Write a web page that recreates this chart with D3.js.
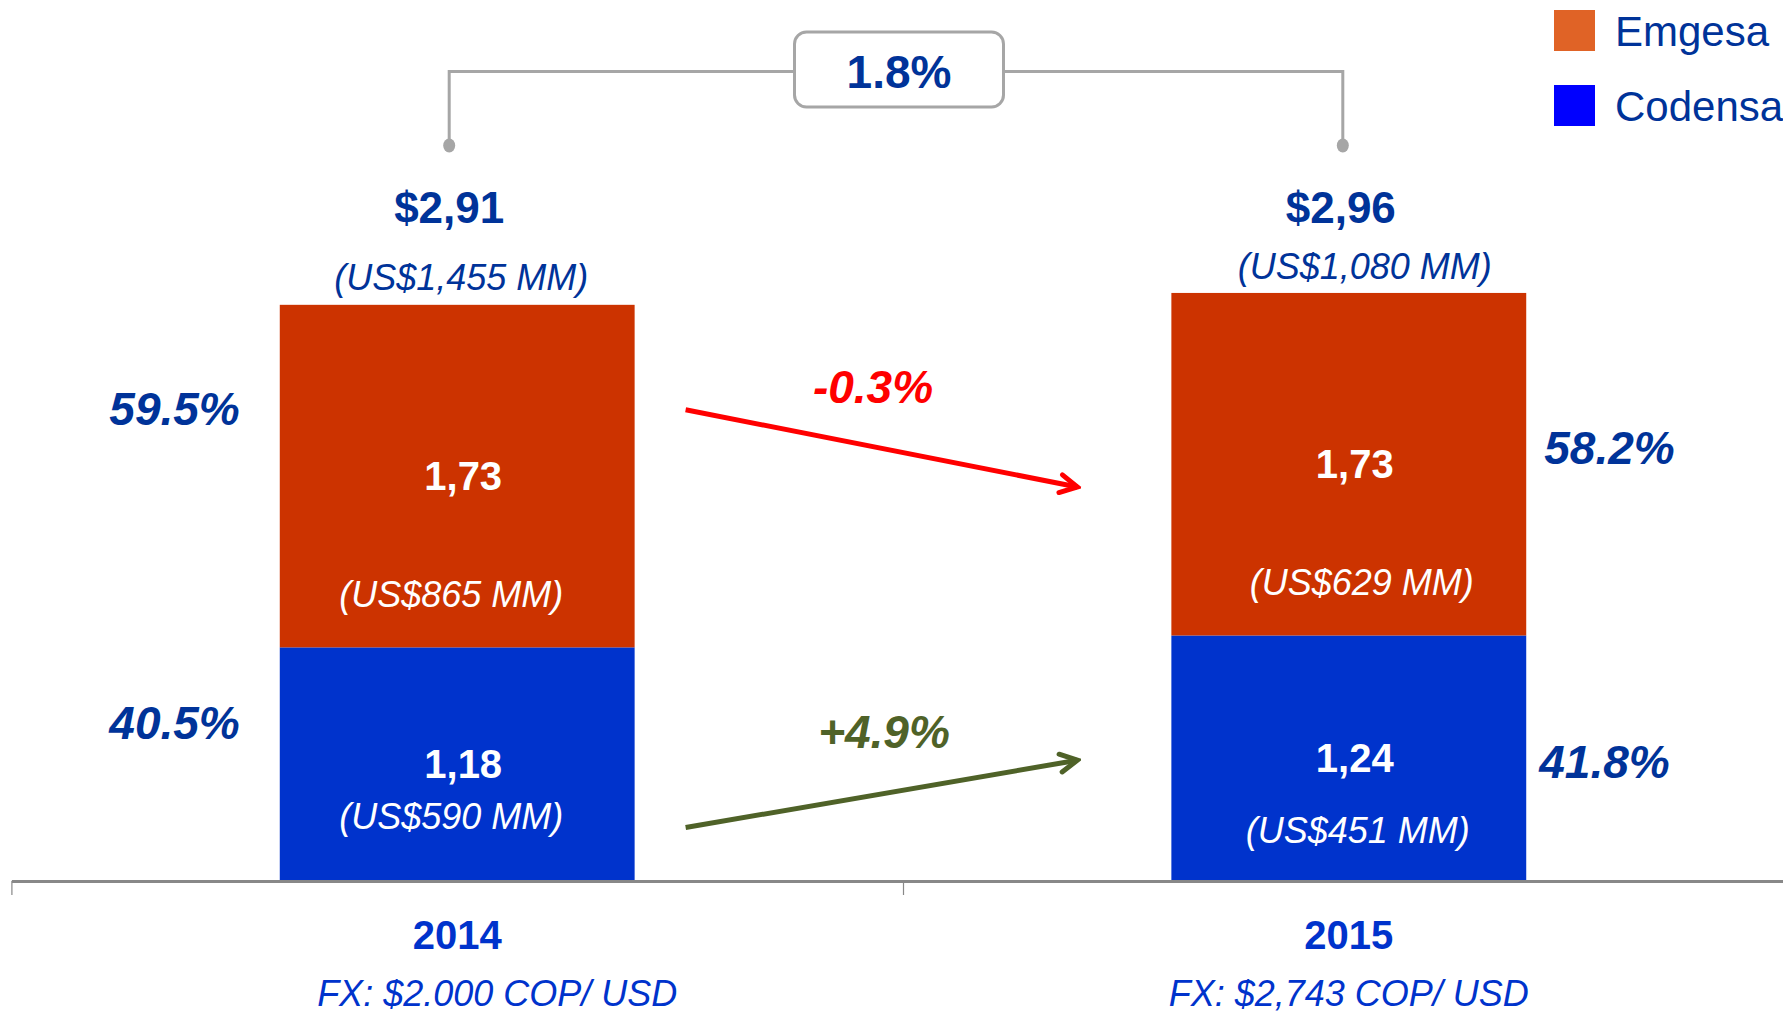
<!DOCTYPE html>
<html>
<head>
<meta charset="utf-8">
<script src="https://cdn.jsdelivr.net/npm/d3@7"></script>
<style>
  html, body { margin: 0; padding: 0; background: #fff; }
  svg { display: block; font-family: "Liberation Sans", Arial, sans-serif; }
</style>
</head>
<body>
<div id="chart"></div>
<script>
// data
const categories = ['2014', '2015'];
const fxLabels = ['FX: $2.000 COP/ USD', 'FX: $2,743 COP/ USD'];
const codensa = [1.18, 1.24];
const emgesa = [1.73, 1.73];
const totalLabels = ['$2,91', '$2,96'];
const totalUsd = ['(US$1,455 MM)', '(US$1,080 MM)'];
const emgesaUsd = ['(US$865 MM)', '(US$629 MM)'];
const codensaUsd = ['(US$590 MM)', '(US$451 MM)'];
const emgesaShare = ['59.5%', '58.2%'];
const codensaShare = ['40.5%', '41.8%'];
const totalGrowth = '1.8%';
// growth arrows: label, start value, end value (in chart units)
const growthArrows = [
    { label: '-0.3%', from: 2.38, to: 1.99, color: '#ff0000' },
    { label: '+4.9%', from: 0.27, to: 0.61, color: '#4f6228' }
];

const width = 1783;
const height = 1013;
const navy = '#003399';
const colors = { emgesa: '#cc3300', codensa: '#0033cc' };
const legendColors = { emgesa: '#e06326', codensa: '#0000ff' };

const svg = d3.select('#chart').append('svg')
    .attr('width', width)
    .attr('height', height);

const rows = categories.map((c, i) => ({ cat: c, codensa: codensa[i], emgesa: emgesa[i] }));
const series = d3.stack().keys(['codensa', 'emgesa'])(rows);

// scales
const x = d3.scaleBand().domain(categories).range([11.4, 1794.6]).padding(0);
const barW = x.bandwidth() * 0.398;
const y = d3.scaleLinear().domain([0, 4]).range([881, 89]);
const cx = c => x(c) + x.bandwidth() / 2;

// bars
svg.append('g')
    .selectAll('g')
    .data(series)
    .join('g')
    .attr('fill', d => colors[d.key])
    .selectAll('rect')
    .data(d => d)
    .join('rect')
    .attr('x', d => cx(d.data.cat) - barW / 2)
    .attr('y', d => y(d[1]))
    .attr('width', barW)
    .attr('height', d => y(d[0]) - y(d[1]));

// axis with ticks at band edges
const edge = d3.scaleLinear().domain([0, 2]).range([11.4, 1794.6]);
const axisG = svg.append('g')
    .attr('transform', `translate(0,${y(0)})`)
    .call(d3.axisBottom(edge).tickValues([0, 1, 2]).tickSize(14).tickSizeOuter(0).tickFormat(''));
axisG.select('.domain').attr('stroke', '#888').attr('stroke-width', 3);
axisG.selectAll('.tick line').attr('stroke', '#888').attr('stroke-width', 1.2);

// category labels
const fxDx = [40, 0];
categories.forEach((c, i) => {
    svg.append('text')
        .attr('x', cx(c))
        .attr('y', 935)
        .attr('dy', '0.35em')
        .attr('text-anchor', 'middle')
        .attr('font-size', 40)
        .attr('font-weight', 'bold')
        .attr('fill', '#0033cc')
        .text(c);
    svg.append('text')
        .attr('x', cx(c) + fxDx[i])
        .attr('y', 993)
        .attr('dy', '0.35em')
        .attr('text-anchor', 'middle')
        .attr('font-size', 36)
        .attr('font-style', 'italic')
        .attr('fill', '#0033cc')
        .text(fxLabels[i]);
});

// segment labels
const emg = series[1];
const cod = series[0];
const usdEmgDx = [-6, 13];
const usdCodDx = [-6, 9];
const usdCodDy = [52, 72];
categories.forEach((c, i) => {
    const eMid = (y(emg[i][0]) + y(emg[i][1])) / 2;
    const cMid = (y(cod[i][0]) + y(cod[i][1])) / 2;
    const fmt = v => v.toFixed(2).replace('.', ',');

    svg.append('text')
        .attr('x', cx(c) + 6).attr('y', eMid).attr('dy', '0.35em')
        .attr('text-anchor', 'middle').attr('font-size', 40).attr('font-weight', 'bold')
        .attr('fill', '#fff').text(fmt(emgesa[i]));
    svg.append('text')
        .attr('x', cx(c) + usdEmgDx[i]).attr('y', y(emg[i][0]) - 53).attr('dy', '0.35em')
        .attr('text-anchor', 'middle').attr('font-size', 36).attr('font-style', 'italic')
        .attr('fill', '#fff').text(emgesaUsd[i]);
    svg.append('text')
        .attr('x', cx(c) + 6).attr('y', cMid).attr('dy', '0.35em')
        .attr('text-anchor', 'middle').attr('font-size', 40).attr('font-weight', 'bold')
        .attr('fill', '#fff').text(fmt(codensa[i]));
    svg.append('text')
        .attr('x', cx(c) + usdCodDx[i]).attr('y', cMid + usdCodDy[i]).attr('dy', '0.35em')
        .attr('text-anchor', 'middle').attr('font-size', 36).attr('font-style', 'italic')
        .attr('fill', '#fff').text(codensaUsd[i]);

    // totals above the bar
    const top = y(emg[i][1]);
    svg.append('text')
        .attr('x', cx(c) - 8).attr('y', 208).attr('dy', '0.35em')
        .attr('text-anchor', 'middle').attr('font-size', 44).attr('font-weight', 'bold')
        .attr('fill', navy).text(totalLabels[i]);
    svg.append('text')
        .attr('x', cx(c) + 4 + 12 * i).attr('y', top - 27).attr('dy', '0.35em')
        .attr('text-anchor', 'middle').attr('font-size', 36).attr('font-style', 'italic')
        .attr('fill', navy).text(totalUsd[i]);
});

// share labels beside the bars
const shareEmgDy = [-67, -16];
const shareCodDy = [-41, 4];
categories.forEach((c, i) => {
    const left = i === 0;
    const xPos = left ? cx(c) - barW / 2 - 40 : cx(c) + barW / 2 + 18;
    const eMid = (y(emg[i][0]) + y(emg[i][1])) / 2;
    const cMid = (y(cod[i][0]) + y(cod[i][1])) / 2;
    [[emgesaShare[i], eMid + shareEmgDy[i], 0], [codensaShare[i], cMid + shareCodDy[i], left ? 0 : -5]].forEach(([t, yy, dx]) => {
        svg.append('text')
            .attr('x', xPos + dx).attr('y', yy).attr('dy', '0.35em')
            .attr('text-anchor', left ? 'end' : 'start')
            .attr('font-size', 46).attr('font-weight', 'bold').attr('font-style', 'italic')
            .attr('fill', navy).text(t);
    });
});

// growth arrows between the bars
const defs = svg.append('defs');
const ax0 = cx(categories[0]) + barW / 2 + 51;
const ax1 = cx(categories[1]) - barW / 2 - 94;
growthArrows.forEach((a, i) => {
    defs.append('marker')
        .attr('id', 'head' + i)
        .attr('viewBox', '0 0 24 24')
        .attr('refX', 20).attr('refY', 12)
        .attr('markerWidth', 24).attr('markerHeight', 24)
        .attr('markerUnits', 'userSpaceOnUse')
        .attr('orient', 'auto')
        .append('path')
        .attr('d', 'M3,3 L20,12 L3,21')
        .attr('fill', 'none')
        .attr('stroke', a.color)
        .attr('stroke-width', 5)
        .attr('stroke-linecap', 'round');
    svg.append('line')
        .attr('x1', ax0).attr('y1', y(a.from))
        .attr('x2', ax1).attr('y2', y(a.to))
        .attr('stroke', a.color).attr('stroke-width', 5)
        .attr('marker-end', `url(#head${i})`);
});
svg.append('text')
    .attr('x', 873).attr('y', 387).attr('dy', '0.35em')
    .attr('text-anchor', 'middle').attr('font-size', 46).attr('font-weight', 'bold').attr('font-style', 'italic')
    .attr('fill', growthArrows[0].color).text(growthArrows[0].label);
svg.append('text')
    .attr('x', 884).attr('y', 732).attr('dy', '0.35em')
    .attr('text-anchor', 'middle').attr('font-size', 46).attr('font-weight', 'bold').attr('font-style', 'italic')
    .attr('fill', growthArrows[1].color).text(growthArrows[1].label);

// bracket with total growth
const bx0 = cx(categories[0]) - 8;
const bx1 = cx(categories[1]) - 6;
const bMid = (cx(categories[0]) + cx(categories[1])) / 2 - 4;
const boxW = 209, boxH = 75, boxY = 32, lineY = 71.6, dotY = 145.5;
const bracket = svg.append('g').attr('stroke', '#a6a6a6').attr('stroke-width', 3).attr('fill', 'none');
bracket.append('path').attr('d', `M${bx0},${dotY} V${lineY} H${bMid - boxW / 2}`);
bracket.append('path').attr('d', `M${bMid + boxW / 2},${lineY} H${bx1} V${dotY}`);
bracket.append('rect')
    .attr('x', bMid - boxW / 2).attr('y', boxY)
    .attr('width', boxW).attr('height', boxH)
    .attr('rx', 12).attr('fill', '#fff');
[bx0, bx1].forEach(bx => {
    svg.append('ellipse').attr('cx', bx).attr('cy', dotY).attr('rx', 6).attr('ry', 7).attr('fill', '#a6a6a6');
});
svg.append('text')
    .attr('x', bMid).attr('y', lineY).attr('dy', '0.35em')
    .attr('text-anchor', 'middle').attr('font-size', 46).attr('font-weight', 'bold')
    .attr('fill', navy).text(totalGrowth);

// legend
const legend = svg.append('g').attr('transform', 'translate(1554,10)');
[['Emgesa', legendColors.emgesa], ['Codensa', legendColors.codensa]].forEach(([name, col], i) => {
    const g = legend.append('g').attr('transform', `translate(0,${i * 75})`);
    g.append('rect').attr('width', 41).attr('height', 41).attr('fill', col);
    g.append('text')
        .attr('x', 61).attr('y', 21).attr('dy', '0.35em')
        .attr('font-size', 42).attr('fill', navy).text(name);
});
</script>
</body>
</html>
